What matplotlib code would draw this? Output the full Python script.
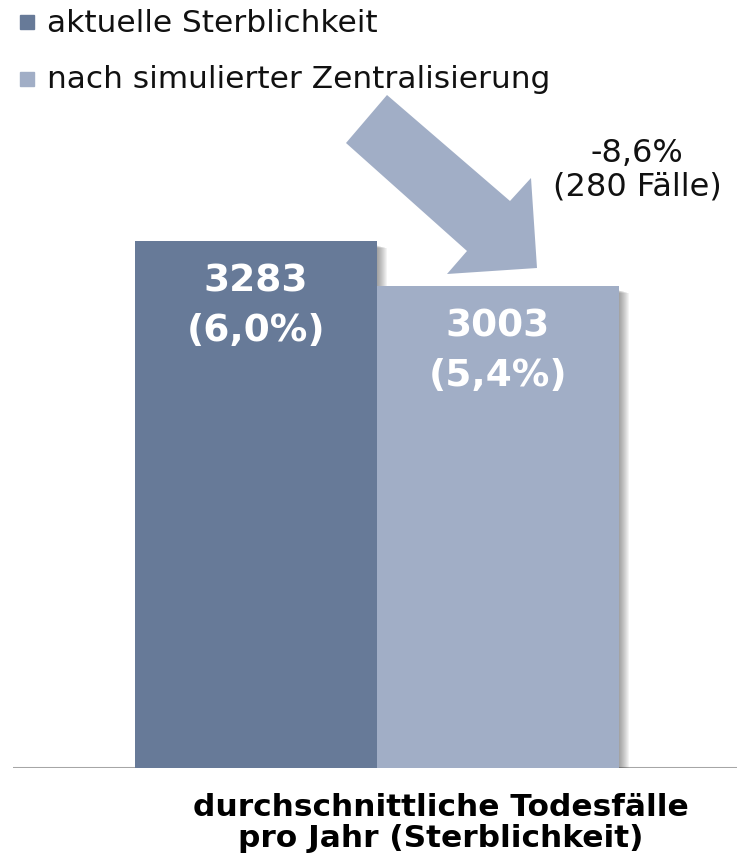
import matplotlib.pyplot as plt
from matplotlib.patches import Polygon, Rectangle
import numpy as np

# data
categories = ["aktuelle Sterblichkeit", "nach simulierter Zentralisierung"]
deaths = [3283, 3003]
rates = ["6,0%", "5,4%"]
change_pct = "-8,6%"
change_cases = 280
xlabel = "durchschnittliche Todesfälle\npro Jahr (Sterblichkeit)"

colors = ["#677a98", "#a1aec6"]

W, H = 737, 859
fig = plt.figure(figsize=(W / 100, H / 100), dpi=100)

# plot area: baseline at y=768px, x from 13 to 737
ypx = 527 / deaths[0]   # pixels per death
xpx = 242               # pixels per bar unit
ax = fig.add_axes([13 / W, (H - 768) / H, (W - 13) / W, 668 / H])
ax.set_ylim(0, 668 / ypx)
ax.set_xlim(-243 / xpx, 481 / xpx)

x = np.arange(len(deaths))
for i in x:
    # soft shadow to the right / below each bar
    for k in range(1, 11):
        ax.add_patch(Rectangle((i - 0.5 + k / xpx, 0), 1, deaths[i] - (4 + k * 0.3) / ypx,
                               color="#404040", alpha=0.06, lw=0, zorder=2 + i * 2))
    ax.bar(i, deaths[i], width=1.0, color=colors[i], zorder=3 + i * 2)
    ax.annotate(f"{deaths[i]}\n({rates[i]})", (i, deaths[i]), xytext=(0, -47),
                textcoords="offset points", ha="center", va="center",
                fontsize=27, fontweight="bold", color="white",
                linespacing=1.5, zorder=10)

ax.axis("off")
ax.axhline(0, color="#a6a6a6", lw=2.2, zorder=1)

# legend
for j, (lab, c) in enumerate(zip(categories, colors)):
    yc = [22, 79][j]
    fig.patches.append(Rectangle((20 / W, 1 - (yc + 7) / H), 14 / W, 14 / H,
                                 transform=fig.transFigure, color=c))
    fig.text(47 / W, 1 - (yc + 1) / H, lab, fontsize=22.5, va="center", ha="left",
             color="#111111")

# arrow
pts = [(387, 95), (510, 201), (531, 178), (537, 268), (447, 274), (467, 251), (346, 143)]
pts = [(px / W, 1 - py / H) for px, py in pts]
fig.patches.append(Polygon(pts, closed=True, transform=fig.transFigure,
                           color=colors[1], lw=0))

fig.text(637 / W, 1 - 170 / H, f"{change_pct}\n({change_cases} Fälle)", fontsize=23,
         ha="center", va="center", color="#111111", linespacing=1.1)

fig.text(441 / W, 1 - 823 / H, xlabel, fontsize=22.5, fontweight="bold",
         ha="center", va="center", linespacing=1.1)

fig.savefig("out.png", dpi=100)
